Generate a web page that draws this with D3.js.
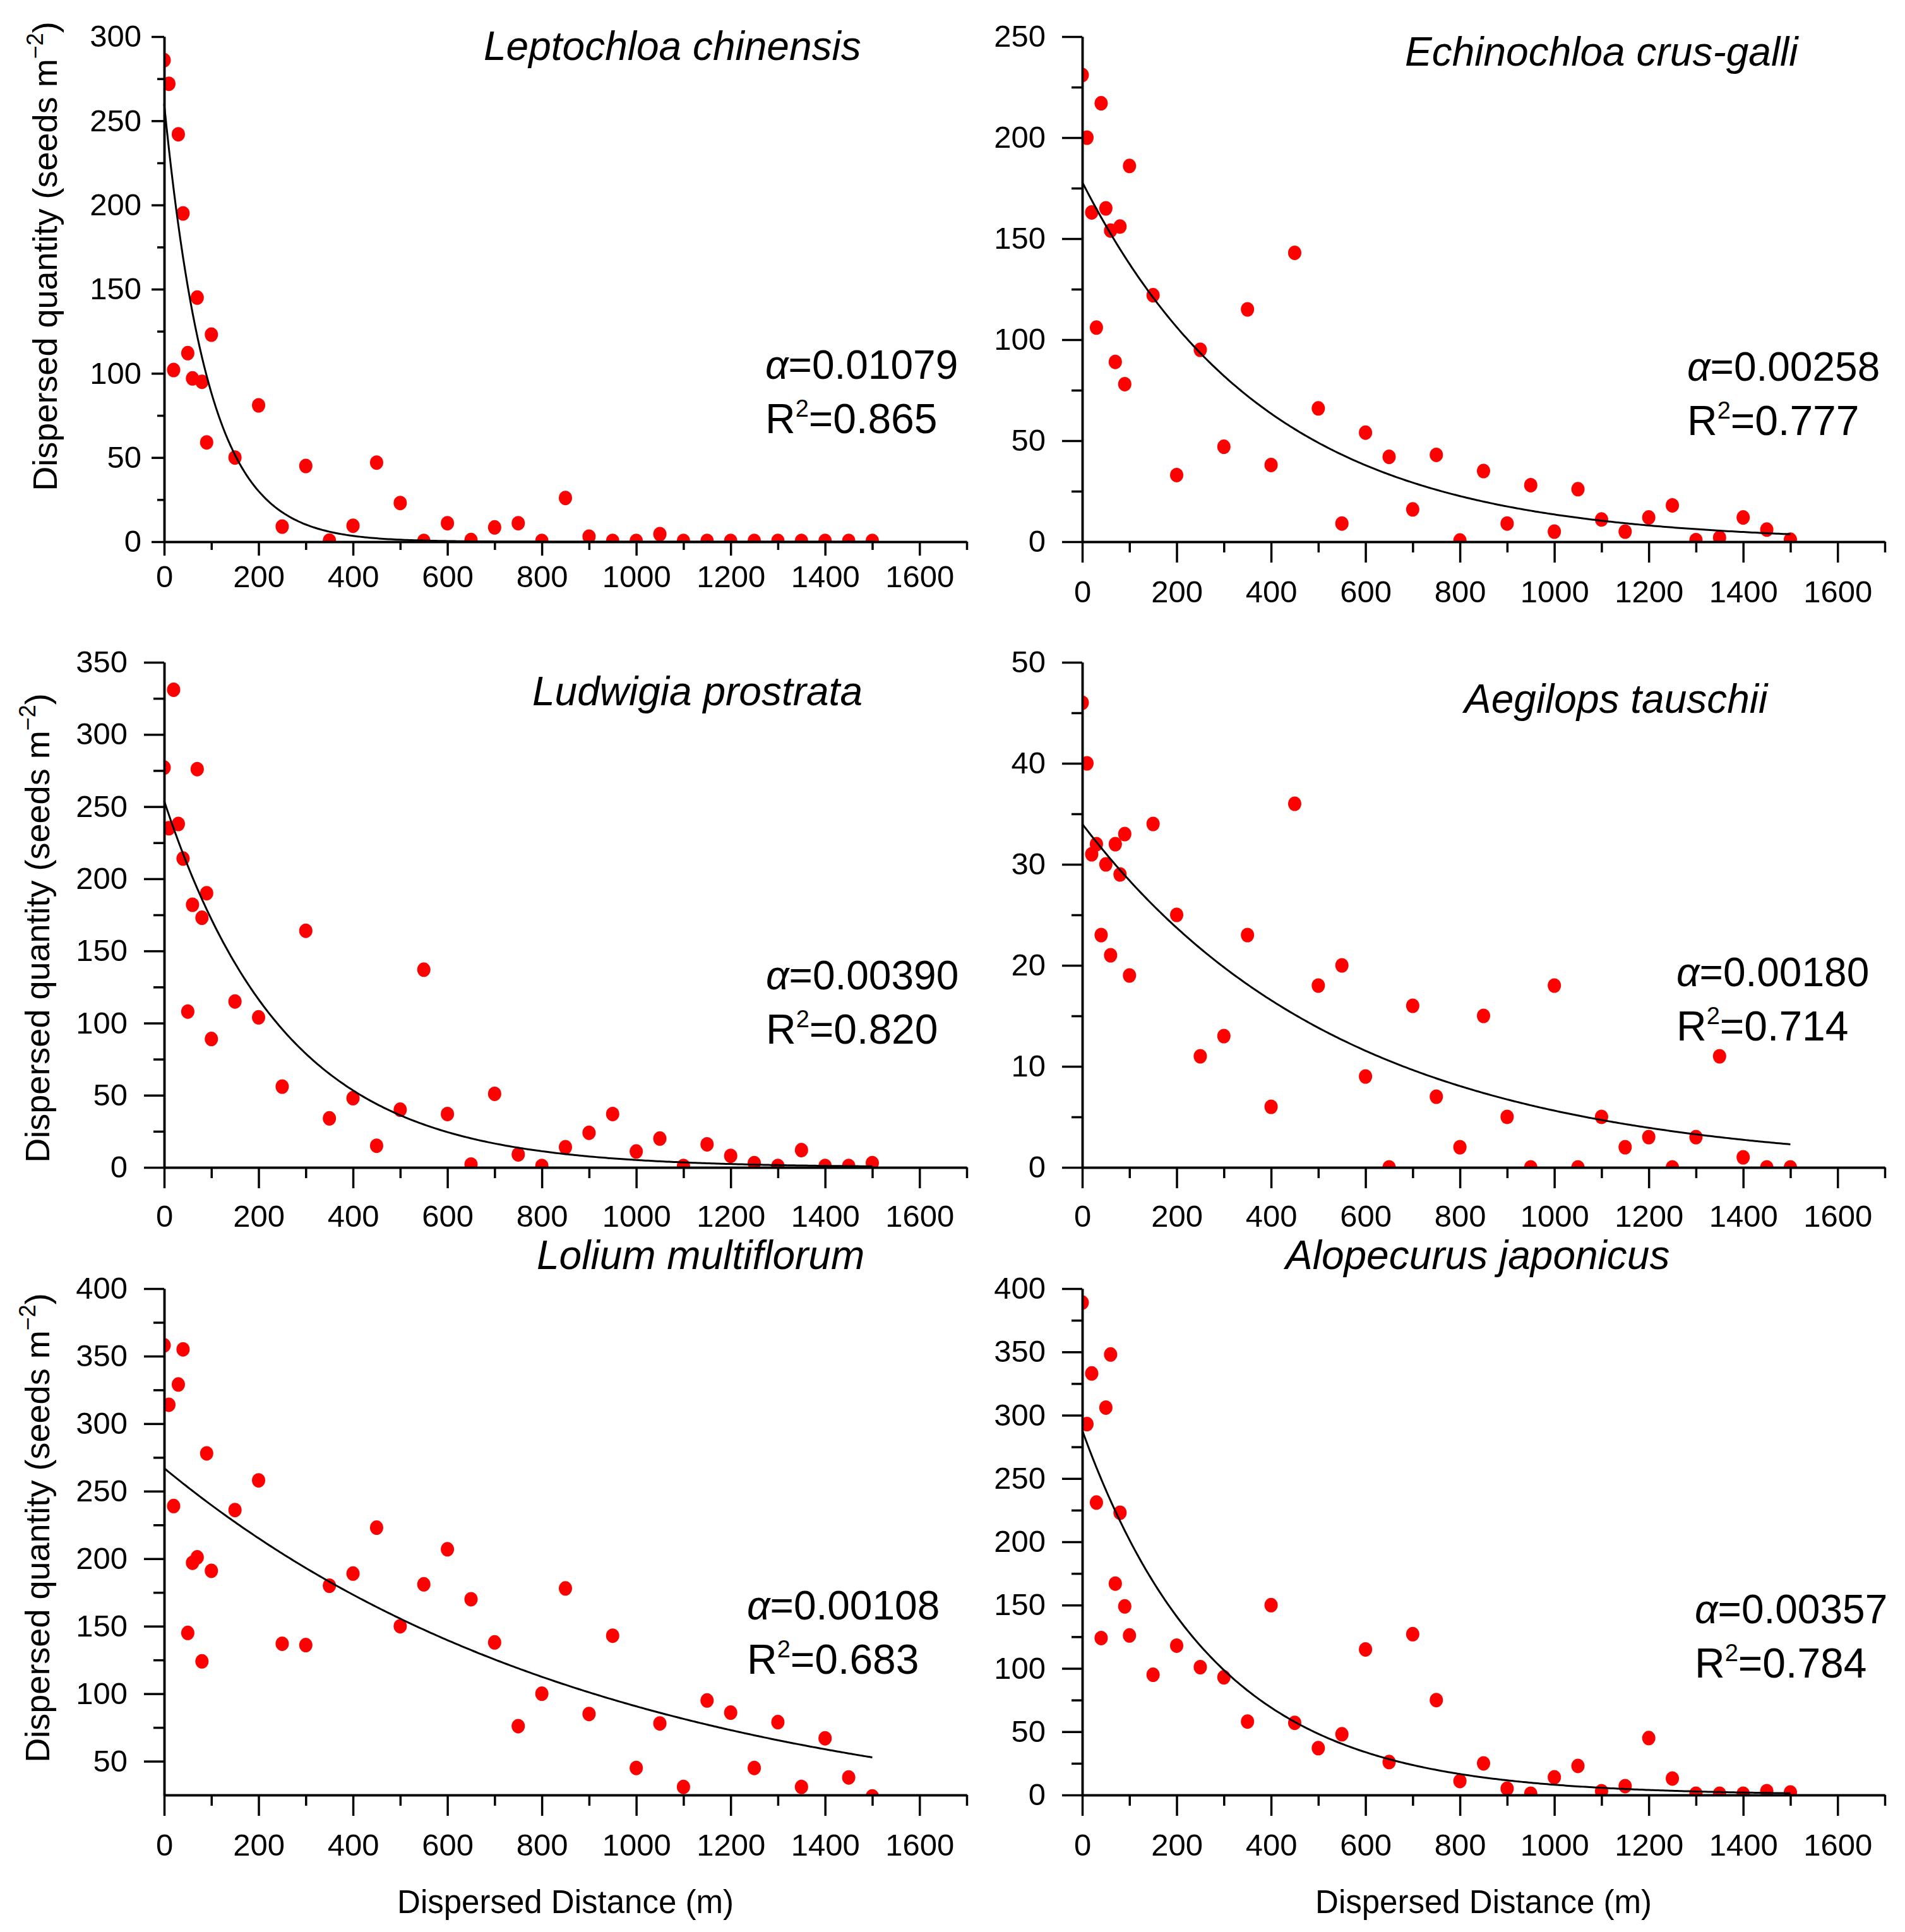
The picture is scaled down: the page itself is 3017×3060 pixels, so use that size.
<!DOCTYPE html>
<html>
<head>
<meta charset="utf-8">
<script src="https://cdn.jsdelivr.net/npm/d3@7"></script>
<style>
body { margin: 0; background: #fff; }
text { font-family: "Liberation Sans", Arial, sans-serif; fill: #000; }
.axis path, .axis line { stroke: #000; stroke-width: 3.5; }
.axis text { font-size: 49px; font-family: "Liberation Sans", Arial, sans-serif; fill: #000; }
</style>
</head>
<body>
<svg id="fig" width="3017" height="3060"></svg>
<script>
// dispersal distances (m), shared by all six species
var distances = [0, 10, 20, 30, 40, 50, 60, 70, 80, 90, 100, 150, 200, 250, 300, 350, 400,
    450, 500, 550, 600, 650, 700, 750, 800, 850, 900, 950, 1000, 1050, 1100, 1150, 1200,
    1250, 1300, 1350, 1400, 1450, 1500];

// dispersed quantity (seeds m-2)
var leptochloa = [286, 272, 102, 242, 195, 112, 97, 145, 95, 59, 123, 50, 81, 9, 45, 0.7, 9.5,
    47, 23, 0.5, 11, 1, 8.5, 11, 0.5, 26, 3, 0.5, 0.5, 4.5, 0.5, 0.5, 0.5, 0.5, 0.5, 0.5, 0.5, 0.5, 0.5];
var echinochloa = [231, 200, 163, 106, 217, 165, 154, 89, 156, 78, 186, 122, 33, 95, 47, 115, 38,
    143, 66, 9, 54, 42, 16, 43, 0.6, 35, 9, 28, 5, 26, 11, 5, 12, 18, 0.8, 2, 12, 6, 1];
var ludwigia = [277, 235, 331, 238, 214, 108, 182, 276, 173, 190, 89, 115, 104, 56, 164, 34, 48,
    15, 40, 137, 37, 2, 51, 9, 1, 14, 24, 37, 11, 20, 1, 16, 8, 3, 1, 12, 1, 1, 3];
var aegilops = [46, 40, 31, 32, 23, 30, 21, 32, 29, 33, 19, 34, 25, 11, 13, 23, 6,
    36, 18, 20, 9, 0, 16, 7, 2, 15, 5, 0, 18, 0, 5, 2, 3, 0, 3, 11, 1, 0, 0];
var lolium = [358, 314, 239, 329, 355, 145, 197, 201, 124, 278, 191, 236, 258, 137, 136, 180, 189,
    223, 150, 181, 207, 170, 138, 76, 100, 178, 85, 143, 45, 78, 31, 95, 86, 45, 79, 31, 67, 38, 24];
var alopecurus = [389, 293, 333, 231, 124, 306, 348, 167, 223, 149, 126, 95, 118, 101, 93, 58, 150,
    57, 37, 48, 115, 26, 127, 75, 11, 25, 5, 1, 14, 23, 3, 7, 45, 13, 1, 1, 1, 3, 2];

var species = ["Leptochloa chinensis", "Echinochloa crus-galli", "Ludwigia prostrata",
    "Aegilops tauschii", "Lolium multiflorum", "Alopecurus japonicus"];
var alphas = ["0.01079", "0.00258", "0.00390", "0.00180", "0.00108", "0.00357"];
var r2s = ["0.865", "0.777", "0.820", "0.714", "0.683", "0.784"];
// fitted curve intercepts (seeds m-2 at 0 m)
var fitA = [260, 178, 254, 34, 267, 288];

// axes
var xTicks = [0, 200, 400, 600, 800, 1000, 1200, 1400, 1600];
var xMinor = [100, 300, 500, 700, 900, 1100, 1300, 1500, 1700];
var yDomains = [[0, 300], [0, 250], [0, 350], [0, 50], [25, 400], [0, 400]];
var yTicks = [
    [0, 50, 100, 150, 200, 250, 300],
    [0, 50, 100, 150, 200, 250],
    [0, 50, 100, 150, 200, 250, 300, 350],
    [0, 10, 20, 30, 40, 50],
    [50, 100, 150, 200, 250, 300, 350, 400],
    [0, 50, 100, 150, 200, 250, 300, 350, 400]
];
var yMinorStep = [25, 25, 25, 5, 25, 25];

var series = [leptochloa, echinochloa, ludwigia, aegilops, lolium, alopecurus];

// panel placement in pixels
var layout = [
    {left: 260, top: 58, bottom: 858, ty: [20, 11, 16], tx: [22, 13, 15],
     title: [766, 95], stat: [1212, 600], ylab: [90, 406]},
    {left: 1714, top: 58, bottom: 858, ty: [32, 17, 26], tx: [33, 17, 28],
     title: [2225, 104], stat: [2672, 603]},
    {left: 260, top: 1049, bottom: 1849, ty: [32, 17, 26], tx: [33, 17, 26],
     title: [843, 1117], stat: [1213, 1567], ylab: [78, 1470]},
    {left: 1714, top: 1049, bottom: 1849, ty: [32, 17, 26], tx: [33, 17, 26],
     title: [2319, 1129], stat: [2655, 1562]},
    {left: 260, top: 2041, bottom: 2843, ty: [32, 17, 26], tx: [33, 17, 28],
     title: [850, 2010], stat: [1183, 2565], ylab: [78, 2420], xlab: true},
    {left: 1714, top: 2041, bottom: 2843, ty: [32, 17, 26], tx: [33, 17, 28],
     title: [2036, 2010], stat: [2684, 2571], xlab: true}
];
var plotWidth = 1271;

var svg = d3.select("#fig");
svg.append("rect").attr("width", 3017).attr("height", 3060).attr("fill", "#fff");

layout.forEach(function (p, i) {
    var xScale = d3.scaleLinear().domain([0, 1700]).range([p.left, p.left + plotWidth]);
    var yScale = d3.scaleLinear().domain(yDomains[i]).range([p.bottom, p.top]);

    var g = svg.append("g");

    // clip to the plot area like the original
    var clipId = "clip" + i;
    svg.append("clipPath").attr("id", clipId)
        .append("rect")
        .attr("x", p.left).attr("y", p.top - 20)
        .attr("width", plotWidth).attr("height", p.bottom - p.top + 20);

    var pts = distances.map(function (d, j) { return {x: d, y: series[i][j]}; });

    g.append("g").attr("clip-path", "url(#" + clipId + ")")
        .selectAll("ellipse")
        .data(pts)
        .enter()
        .append("ellipse")
        .attr("cx", function (d) { return xScale(d.x); })
        .attr("cy", function (d) { return yScale(d.y); })
        .attr("rx", 10.5)
        .attr("ry", 11.5)
        .attr("fill", "#ff0000");

    // negative exponential fit
    var a = +alphas[i];
    var fit = d3.range(0, 1501, 5).map(function (d) { return {x: d, y: fitA[i] * Math.exp(-a * d)}; });
    var line = d3.line()
        .x(function (d) { return xScale(d.x); })
        .y(function (d) { return yScale(d.y); });
    g.append("path")
        .datum(fit)
        .attr("d", line)
        .attr("fill", "none")
        .attr("stroke", "#000")
        .attr("stroke-width", 3);

    // x axis
    var yBase = p.bottom;
    g.append("g").attr("class", "axis")
        .attr("transform", "translate(0," + yBase + ")")
        .call(d3.axisBottom(xScale).tickValues(xMinor).tickSize(p.tx[1]).tickSizeOuter(0).tickFormat(""));
    g.append("g").attr("class", "axis")
        .attr("transform", "translate(0," + yBase + ")")
        .call(d3.axisBottom(xScale).tickValues(xTicks).tickSize(p.tx[0]).tickSizeOuter(0)
            .tickPadding(p.tx[2]).tickFormat(d3.format("d")));

    // y axis
    var yd = yDomains[i];
    var minor = d3.range(yd[0], yd[1] + 0.001, yMinorStep[i]).filter(function (v) {
        return yTicks[i].indexOf(v) < 0 && v > yd[0];
    });
    g.append("g").attr("class", "axis")
        .attr("transform", "translate(" + p.left + ",0)")
        .call(d3.axisLeft(yScale).tickValues(minor).tickSize(p.ty[1]).tickSizeOuter(0).tickFormat(""));
    g.append("g").attr("class", "axis")
        .attr("transform", "translate(" + p.left + ",0)")
        .call(d3.axisLeft(yScale).tickValues(yTicks[i]).tickSize(p.ty[0]).tickSizeOuter(0)
            .tickPadding(p.ty[2]).tickFormat(d3.format("d")));

    // species name
    g.append("text")
        .attr("x", p.title[0]).attr("y", p.title[1])
        .style("font-size", "64px")
        .style("font-style", "italic")
        .text(species[i]);

    // fit statistics
    var st = g.append("text")
        .attr("x", p.stat[0]).attr("y", p.stat[1])
        .style("font-size", "64px");
    st.append("tspan").style("font-style", "italic").text("\u03b1");
    st.append("tspan").text("=" + alphas[i]);

    var rt = g.append("text")
        .attr("x", p.stat[0]).attr("y", p.stat[1] + 86)
        .style("font-size", "66px");
    rt.append("tspan").text("R");
    rt.append("tspan").attr("dy", -26).style("font-size", "38px").text("2");
    rt.append("tspan").attr("dy", 26).text("=" + r2s[i]);

    // y axis title (left column)
    if (p.ylab) {
        var yl = g.append("text")
            .attr("transform", "translate(" + p.ylab[0] + "," + p.ylab[1] + ") rotate(-90)")
            .style("text-anchor", "middle")
            .style("font-size", "54px");
        yl.append("tspan").text("Dispersed quantity (seeds m");
        yl.append("tspan").attr("dy", -22).style("font-size", "36px").text("\u22122");
        yl.append("tspan").attr("dy", 22).text(")");
    }

    // x axis title (bottom row)
    if (p.xlab) {
        g.append("text")
            .attr("x", xScale(850)).attr("y", 3030)
            .style("text-anchor", "middle")
            .style("font-size", "51px")
            .text("Dispersed Distance (m)");
    }
});
</script>
</body>
</html>
